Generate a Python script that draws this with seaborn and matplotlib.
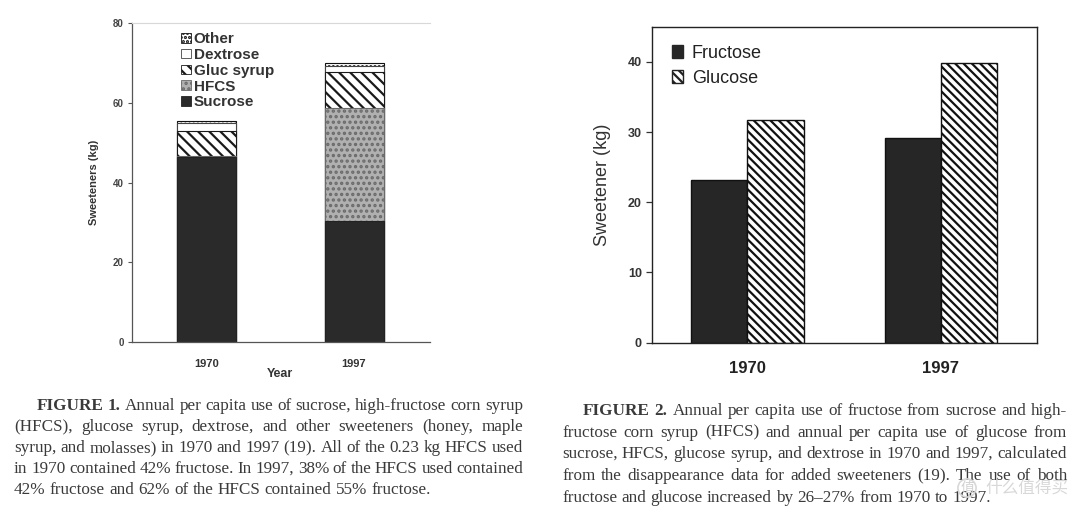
import matplotlib
matplotlib.use("Agg")
import matplotlib.pyplot as plt
import matplotlib.patches as mpatches
import seaborn as sns
import pandas as pd

# --- data ---
years = ["1970", "1997"]

# figure 1: stacked per capita use (kg)
sucrose = [46.4, 30.4]
hfcs = [0.23, 28.2]
gluc_syrup = [6.3, 9.1]
dextrose = [2.0, 1.5]
other = [0.5, 0.8]

# figure 2: fructose / glucose (kg)
fructose = [23.2, 29.2]
glucose = [31.7, 39.8]

cap1 = [
    "FIGURE 1. Annual per capita use of sucrose, high-fructose corn syrup",
    "(HFCS), glucose syrup, dextrose, and other sweeteners (honey, maple",
    "syrup, and molasses) in 1970 and 1997 (19). All of the 0.23 kg HFCS used",
    "in 1970 contained 42% fructose. In 1997, 38% of the HFCS used contained",
    "42% fructose and 62% of the HFCS contained 55% fructose.",
]
cap2 = [
    "FIGURE 2. Annual per capita use of fructose from sucrose and high-",
    "fructose corn syrup (HFCS) and annual per capita use of glucose from",
    "sucrose, HFCS, glucose syrup, and dextrose in 1970 and 1997, calculated",
    "from the disappearance data for added sweeteners (19). The use of both",
    "fructose and glucose increased by 26\u201327% from 1970 to 1997.",
]

sns.set_theme(style="white")
plt.rcParams["font.family"] = ["Liberation Sans", "DejaVu Sans"]
plt.rcParams["hatch.linewidth"] = 1.6

W, H = 1080, 511
fig = plt.figure(figsize=(W / 100, H / 100), dpi=100)
fig.patch.set_facecolor("white")

# ---------------- figure 1 ----------------
ax1 = fig.add_axes([132 / W, 1 - 342 / H, 298 / W, 319 / H])

layers = [
    ("Sucrose", sucrose, "#2a2a2a", "#222222", None),
    ("HFCS", hfcs, "#b0b0b0", "#6a6a6a", "..."),
    ("Gluc syrup", gluc_syrup, "white", "#1a1a1a", "\\\\\\"),
    ("Dextrose", dextrose, "white", "#444444", None),
    ("Other", other, "white", "#111111", "...."),
]

# cumulative tops, drawn from the tallest down so each layer covers the next
tops = []
run = [0.0, 0.0]
for name, vals, fc, ec, h in layers:
    run = [r + v for r, v in zip(run, vals)]
    tops.append(list(run))

for (name, vals, fc, ec, h), top in reversed(list(zip(layers, tops))):
    sns.barplot(x=years, y=top, order=years, ax=ax1, color=fc, edgecolor=ec,
                linewidth=0.8, hatch=h, width=0.4, saturation=1)

ax1.set_xlim(-0.505, 1.515)
ax1.set_ylim(0, 80)
ax1.set_yticks([0, 20, 40, 60, 80])
ax1.tick_params(axis="y", left=True, length=3, width=0.8, color="#555555",
                labelsize=7, labelcolor="#444444", pad=3)
ax1.tick_params(axis="x", bottom=False, labelsize=8, labelcolor="#333333", pad=6)
for lab in ax1.get_xticklabels() + ax1.get_yticklabels():
    lab.set_fontweight("bold")
for s in ["left", "bottom"]:
    ax1.spines[s].set_color("#555555")
    ax1.spines[s].set_linewidth(0.9)
ax1.spines["top"].set_color("#d8d8d8")
ax1.spines["top"].set_linewidth(0.8)
ax1.spines["right"].set_visible(False)
ax1.set_ylabel("Sweeteners (kg)", fontsize=8, fontweight="bold", color="#333333")
ax1.yaxis.set_label_coords(-0.11, 0.5)
ax1.set_xlabel("Year", fontsize=9, fontweight="bold", color="#333333")
ax1.xaxis.set_label_coords(0.497, -0.082)

h1 = [mpatches.Patch(facecolor=fc, edgecolor=ec, hatch=h, linewidth=0.6, label=name)
      for name, vals, fc, ec, h in reversed(layers)]
ax1.legend(handles=h1, loc="upper left", bbox_to_anchor=(0.135, 1.0), frameon=False,
           handlelength=0.6, handleheight=0.6, handletextpad=0.2,
           labelspacing=0.12, borderaxespad=0.2, prop={"weight": "bold", "size": 11},
           labelcolor="#333333")

# ---------------- figure 2 ----------------
ax2 = fig.add_axes([651.7 / W, 1 - 342.7 / H, 385 / W, 316 / H])
df2 = pd.DataFrame({
    "Year": years * 2,
    "Sugar": ["Fructose"] * 2 + ["Glucose"] * 2,
    "kg": fructose + glucose,
})
sns.barplot(data=df2, x="Year", y="kg", hue="Sugar", order=years, ax=ax2,
            palette=["#262626", "white"], saturation=1, edgecolor="#111111",
            linewidth=1.0, width=0.58, legend=False)
for bar in ax2.containers[1]:
    bar.set_hatch("\\\\\\\\")

ax2.set_xlim(-0.495, 1.495)
ax2.set_ylim(0, 45)
ax2.set_yticks([0, 10, 20, 30, 40])
ax2.tick_params(axis="y", left=True, length=4, width=0.9, color="#333333",
                labelsize=9, labelcolor="#333333", pad=3)
ax2.tick_params(axis="x", bottom=False, labelsize=12, labelcolor="#222222", pad=7)
for lab in ax2.get_xticklabels() + ax2.get_yticklabels():
    lab.set_fontweight("bold")
for s in ax2.spines.values():
    s.set_color("#222222")
    s.set_linewidth(1.0)
ax2.set_ylabel("Sweetener (kg)", fontsize=13, color="#333333")
ax2.yaxis.set_label_coords(-0.105, 0.5)
ax2.set_xlabel("")

h2 = [mpatches.Patch(facecolor="#262626", edgecolor="#262626", label="Fructose"),
      mpatches.Patch(facecolor="white", edgecolor="#222222", hatch="\\\\\\\\", label="Glucose")]
ax2.legend(handles=h2, loc="upper left", bbox_to_anchor=(0.01, 0.995), frameon=False,
           fontsize=13, handlelength=0.6, handleheight=0.7, handletextpad=0.5,
           labelspacing=0.45, labelcolor="#222222")

# ---------------- captions (justified, word by word) ----------------
renderer = fig.canvas.get_renderer()
serif = ["Liberation Serif", "DejaVu Serif"]


def caption(lines, x_first, x_left, x_right, baselines, size=12.3):
    space = size * 100 / 72 * 0.25
    for i, (line, yb) in enumerate(zip(lines, baselines)):
        words = line.split(" ")
        texts = []
        for j, w in enumerate(words):
            bold = i == 0 and j < 2
            t = fig.text(0, 0, w, fontsize=size, family=serif, color="#3a3a3a",
                         fontweight="bold" if bold else "normal", va="baseline")
            texts.append(t)
        widths = [t.get_window_extent(renderer).width for t in texts]
        start = x_first if i == 0 else x_left
        if i == len(lines) - 1:
            gap = space
        else:
            gap = max((x_right - start - sum(widths)) / (len(words) - 1), 2)
        x = start
        for t, w in zip(texts, widths):
            t.set_position((x / W, 1 - yb / H))
            x += w + gap


caption(cap1, 37, 14, 523, [410, 431, 452, 473, 494])
caption(cap2, 583, 562, 1067, [415, 436.5, 458, 480, 501.5])

# faint site watermark in the corner
fig.text(967 / W, 1 - 488 / H, "值", fontsize=10, color="#d2d2d2", ha="center", va="center",
         family=["Noto Sans CJK SC", "DejaVu Sans"],
         bbox=dict(boxstyle="circle,pad=0.15", facecolor="none", edgecolor="#d8d8d8", lw=1.2))
fig.text(985 / W, 1 - 488 / H, "什么值得买", fontsize=12, color="#d4d4d4", va="center",
         family=["Noto Sans CJK SC", "DejaVu Sans"], alpha=0.9)

fig.savefig("out.png", dpi=100, facecolor="white")
